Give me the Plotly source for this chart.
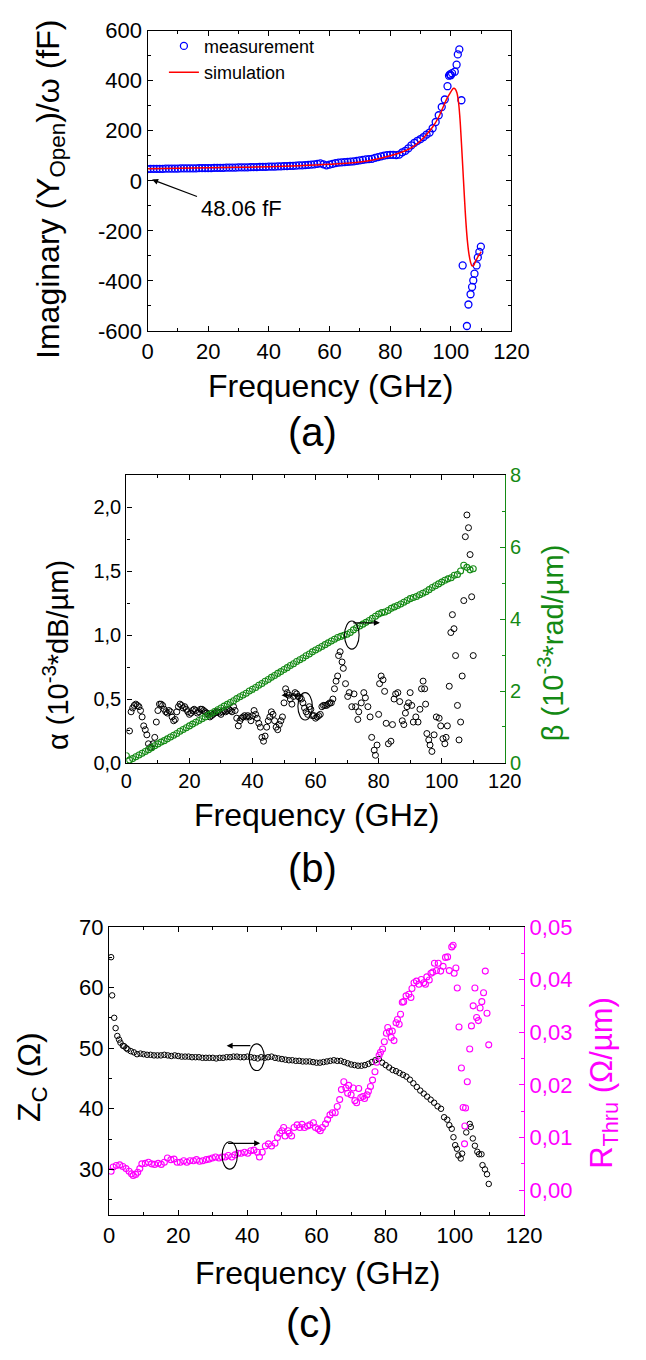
import plotly.graph_objects as go

FONT = "Liberation Sans, Arial, sans-serif"

# ---------------- (a) data ----------------
a_meas_freq = list(range(0, 99)) + [98.9, 99.4, 99.7, 100.0, 100.4, 101.3, 101.9, 102.3, 102.8, 103.5,
                                     103.9, 105.3, 105.8, 106.5, 107.0, 107.4, 107.8, 108.5, 108.9, 109.4, 109.9]
a_meas_val = [47, 48, 48, 48, 48, 48, 49, 49, 49, 49, 49,
              50, 50, 50, 50, 50, 50, 51, 51, 51, 51,
              51, 52, 52, 52, 52, 53, 53, 53, 53, 54,
              54, 54, 54, 55, 55, 55, 56, 56, 56, 57,
              57, 57, 58, 58, 59, 59, 60, 60, 61, 62,
              62, 63, 64, 65, 66, 68, 70, 66, 62, 65,
              68, 71, 73, 74, 75, 76, 77, 78, 80, 82,
              84, 86, 87, 88, 92, 95, 98, 101, 103, 104,
              104, 103, 105, 114, 120, 130, 142, 152, 160, 167,
              175, 185, 193, 210, 235, 262, 295, 325,
              378, 420, 425, 422, 430, 436, 464, 505, 525, 322,
              -338, -580, -494, -453, -424, -398, -371, -338, -306, -284, -263]

a_sim_freq = [0, 10, 20, 30, 40, 50, 60, 70, 75, 80, 85, 88, 90, 92, 94, 96, 98, 99, 100, 100.5,
              101, 101.5, 102, 102.5, 103, 103.5, 104, 104.5, 105, 105.5, 106, 106.5, 107, 107.5,
              108, 108.5, 109, 109.5, 110]
a_sim_val = [48, 50, 52, 54, 56, 60, 66, 75, 85, 100, 120, 140, 160, 185, 215, 255, 310, 335, 355, 365,
             370, 366, 352, 318, 250, 150, 40, -70, -170, -245, -295, -325, -340, -338, -325,
             -313, -302, -293, -283]

# ---------------- (b) data ----------------
b_alpha_freq = [1.0, 1.5, 2.0, 2.5, 3.0, 3.5, 4.0, 4.5, 5.0, 5.5, 6.0, 6.5, 7.0, 7.5, 8.0, 8.5, 9.0, 9.5,
                10.0, 10.5, 11.0, 11.5, 12.0, 12.5, 13.0, 13.5, 14.0, 14.5, 15.0, 15.5, 16.0, 16.5, 17.0,
                17.5, 18.0, 18.5, 19.0, 19.5, 20.0, 20.5, 21.0, 21.5, 22.0, 22.5, 23.0, 23.5, 24.0, 24.5,
                25.0, 25.5, 26.0, 26.5, 27.0, 27.5, 28.0, 28.5, 29.0, 29.5, 30.0, 30.5, 31.0, 31.5, 32.0,
                32.5, 33.0, 33.5, 34.0, 34.5, 35.0, 35.5, 36.0, 36.5, 37.0, 37.5, 38.0, 38.5, 39.0, 39.5,
                40.0, 40.5, 41.0, 41.5, 42.0, 42.5, 43.0, 43.5, 44.0, 44.5, 45.0, 45.5, 46.0, 46.5, 47.0,
                47.5, 48.0, 48.5, 49.0, 49.5, 50.0, 50.5, 51.0, 51.5, 52.0, 52.5, 53.0, 53.5, 54.0, 54.5,
                55.0, 55.5, 56.0, 56.5, 57.0, 57.5, 58.0, 58.5, 59.0, 59.5, 60.0, 60.5, 61.0, 61.5, 62.0,
                62.5, 63.0, 63.5, 64.0, 64.5, 65.0, 65.5, 66.0, 66.5, 67.0, 67.3, 67.8, 68.4, 68.8, 69.5,
                70.2, 70.7, 71.5, 72.2, 72.7, 73.4, 73.7, 74.5, 75.3, 75.8, 76.6, 77.3, 77.8, 78.6, 79.0,
                79.5, 80.0, 80.3, 80.8, 81.4, 81.9, 82.4, 83.1, 83.9, 84.4, 84.9, 85.4, 86.1, 86.7, 87.5,
                88.0, 88.5, 89.0, 89.5, 90.0, 90.5, 91.0, 91.8, 92.5, 93.1, 93.6, 94.1, 94.6, 94.9, 95.3,
                95.9, 96.3, 96.9, 97.6, 98.3, 99.2, 99.7, 100.4, 101.0, 101.4, 101.8, 102.4, 102.9, 103.4,
                103.9, 104.4, 105.0, 105.5, 106.0, 106.5, 107.0, 107.5, 108.0, 108.5, 109.0, 109.5, 110.0]
b_alpha_val = [0.25, 0.40, 0.43, 0.45, 0.46, 0.45, 0.44, 0.41, 0.36, 0.29, 0.26, 0.22, 0.15, 0.12, 0.12,
               0.15, 0.20, 0.32, 0.41, 0.46, 0.46, 0.45, 0.42, 0.40, 0.39, 0.41, 0.40, 0.36, 0.33, 0.34,
               0.40, 0.44, 0.46, 0.45, 0.43, 0.44, 0.42, 0.40, 0.38, 0.39, 0.41, 0.42, 0.41, 0.39, 0.40,
               0.42, 0.42, 0.41, 0.40, 0.39, 0.38, 0.36, 0.37, 0.38, 0.39, 0.40, 0.40, 0.39, 0.38, 0.40,
               0.41, 0.40, 0.41, 0.42, 0.41, 0.40, 0.44, 0.41, 0.35, 0.29, 0.33, 0.35, 0.36, 0.37, 0.36,
               0.37, 0.36, 0.33, 0.37, 0.41, 0.38, 0.35, 0.31, 0.28, 0.20, 0.17, 0.21, 0.28, 0.33, 0.36,
               0.40, 0.38, 0.33, 0.28, 0.26, 0.30, 0.33, 0.36, 0.47, 0.58, 0.55, 0.53, 0.50, 0.46, 0.52,
               0.55, 0.54, 0.52, 0.51, 0.50, 0.47, 0.43, 0.40, 0.38, 0.44, 0.42, 0.37, 0.37, 0.35, 0.36,
               0.37, 0.38, 0.44, 0.45, 0.45, 0.45, 0.46, 0.47, 0.47, 0.50, 0.58, 0.64, 0.68, 0.84, 0.87,
               0.79, 0.74, 0.62, 0.52, 0.55, 0.44, 0.54, 0.44, 0.34, 0.40, 0.47, 0.55, 0.51, 0.44, 0.36,
               0.20, 0.10, 0.06, 0.14, 0.38, 0.62, 0.68, 0.65, 0.56, 0.31, 0.15, 0.17, 0.30, 0.50, 0.54,
               0.55, 0.48, 0.33, 0.30, 0.39, 0.44, 0.47, 0.55, 0.45, 0.32, 0.36, 0.32, 0.42, 0.58, 0.64,
               0.58, 0.46, 0.23, 0.18, 0.14, 0.09, 0.22, 0.36, 0.35, 0.29, 0.19, 0.15, 0.20, 0.29, 0.60,
               1.02, 1.16, 1.05, 0.84, 0.45, 0.18, 0.32, 0.68, 1.27, 1.77, 1.94, 1.84, 1.63, 1.30, 0.84]

b_beta_freq = list(range(0, 111))
b_beta_val = [0.20, 0.08, 0.12, 0.17, 0.22, 0.27, 0.32, 0.37, 0.42, 0.48, 0.53,
              0.58, 0.62, 0.67, 0.72, 0.77, 0.82, 0.88, 0.93, 0.98, 1.03,
              1.08, 1.13, 1.18, 1.23, 1.28, 1.33, 1.38, 1.43, 1.48, 1.53,
              1.58, 1.63, 1.68, 1.73, 1.79, 1.84, 1.89, 1.94, 2.00, 2.05,
              2.10, 2.16, 2.21, 2.27, 2.32, 2.38, 2.43, 2.49, 2.54, 2.60,
              2.65, 2.71, 2.76, 2.82, 2.87, 2.92, 2.98, 3.03, 3.09, 3.14,
              3.19, 3.24, 3.29, 3.34, 3.39, 3.44, 3.49, 3.52, 3.55, 3.58,
              3.63, 3.70, 3.76, 3.81, 3.86, 3.91, 3.96, 4.02, 4.08, 4.14,
              4.18, 4.20, 4.24, 4.30, 4.34, 4.38, 4.42, 4.47, 4.52, 4.57,
              4.60, 4.63, 4.68, 4.72, 4.76, 4.82, 4.88, 4.93, 4.98, 5.03,
              5.08, 5.12, 5.15, 5.22, 5.24, 5.34, 5.50, 5.44, 5.37, 5.40]

# ---------------- (c) data ----------------
c_zc_freq = [0.6, 0.9, 1.5, 1.9, 2.4, 2.9, 3.3, 4.0, 4.4, 5.0, 5.4, 6.3, 7.2, 8.1, 9.1] + list(range(10, 97)) + \
            [96.9, 97.8, 98.4, 99.1, 99.6, 100.1, 100.6, 101.0, 101.7, 102.1, 103.3, 104.3, 104.6, 105.2,
             105.8, 106.5, 107.0, 107.7, 108.0, 108.7, 109.3, 109.8]
c_zc_val = [65.0, 58.7, 55.0, 53.3, 52.0, 51.4, 50.9, 50.4, 50.3, 50.0, 49.8, 49.5, 49.3, 49.0, 49.1,
            49.0, 48.9, 48.9, 48.8, 48.8, 48.8, 48.9, 48.8, 48.7, 48.8,
            48.7, 48.6, 48.6, 48.6, 48.5, 48.5, 48.5, 48.4, 48.4, 48.4,
            48.4, 48.3, 48.4, 48.4, 48.5, 48.5, 48.6, 48.6, 48.5, 48.5,
            48.6, 48.5, 48.4, 48.3, 48.5, 48.4, 48.5, 48.6, 48.4, 48.3,
            48.2, 48.1, 48.0, 48.0, 47.9, 47.9, 47.8, 47.8, 47.8, 47.7,
            47.6, 47.6, 47.7, 47.8, 47.9, 48.0, 47.9, 47.9, 47.7, 47.5,
            47.3, 47.2, 47.1, 47.1, 47.2, 47.4, 47.7, 48.0, 48.2, 47.6,
            47.2, 46.8, 46.4, 46.2, 45.9, 45.6, 45.3, 44.8, 44.2, 43.6,
            43.0, 42.5, 42.0, 41.5, 41.0, 40.4, 40.0,
            38.6, 38.2, 37.3, 36.7, 35.3, 34.0, 33.4, 32.3, 31.8, 32.6, 36.1, 37.5, 37.0, 35.1,
            33.9, 32.9, 32.5, 32.5, 30.7, 30.0, 29.2, 27.6]

c_r_freq = [0.6, 1.2, 2.1, 3.1, 4.0, 4.9, 5.8, 6.5, 7.0, 7.7, 8.3, 8.9, 9.5, 10.5, 11.4, 12.3, 13.2, 14.2,
            15.1, 16.0, 16.9, 17.9, 18.8, 19.7, 20.6, 21.6, 22.5, 23.4, 24.4, 25.3, 26.2, 27.1, 28.1, 29.0,
            29.9, 30.8, 31.8, 32.7, 33.6, 34.5, 35.5, 36.4, 37.3, 38.2, 39.2, 40.1, 41.0, 41.9, 42.9, 43.5,
            44.3, 45.2, 46.1, 47.0, 48.0, 48.7, 49.4, 50.0, 50.5, 50.9, 51.7, 52.1, 52.8, 53.5, 54.4, 55.2,
            55.8, 56.5, 57.4, 58.1, 59.1, 59.7, 60.5, 61.1, 61.7, 62.6, 63.2, 63.9, 64.6, 65.4, 66.0, 66.7,
            67.2, 67.9, 68.5, 69.0, 69.3, 70.0, 70.6, 71.1, 71.6, 72.2, 72.8, 73.4, 73.9, 74.6, 75.0, 75.6,
            76.2, 76.9, 77.4, 78.1, 78.5, 79.1, 79.6, 80.2, 80.6, 81.1, 81.6, 81.9, 82.4, 83.0, 83.4, 83.9,
            84.3, 84.8, 85.2, 85.9, 86.7, 87.3, 87.6, 88.2, 88.9, 89.6, 90.3, 91.0, 91.5, 91.9, 92.6, 93.1,
            93.6, 94.1, 94.7, 95.2, 95.9, 96.6, 97.3, 97.9, 98.4, 99.1, 99.5, 99.8, 100.3, 100.7, 101.2,
            101.9, 102.4, 102.8, 102.9, 103.1, 103.6, 104.3, 104.8, 105.3, 105.8, 106.3, 106.8, 107.3,
            107.8, 108.3, 108.8, 109.3, 109.8]
c_r_val = [0.0036, 0.0044, 0.0047, 0.0048, 0.0045, 0.0041, 0.0036, 0.0031, 0.0028, 0.0030, 0.0034, 0.0041,
           0.0050, 0.0051, 0.0053, 0.0050, 0.0049, 0.0051, 0.0049, 0.0053, 0.0061, 0.0058, 0.0059, 0.0053,
           0.0053, 0.0056, 0.0053, 0.0056, 0.0056, 0.0058, 0.0055, 0.0056, 0.0058, 0.0059, 0.0061, 0.0063,
           0.0061, 0.0063, 0.0063, 0.0066, 0.0063, 0.0067, 0.0070, 0.0070, 0.0072, 0.0070, 0.0075, 0.0076,
           0.0072, 0.0063, 0.0072, 0.0084, 0.0088, 0.0084, 0.0089, 0.0100, 0.0108, 0.0113, 0.0119, 0.0103,
           0.0113, 0.0108, 0.0103, 0.0119, 0.0124, 0.0119, 0.0125, 0.0119, 0.0122, 0.0124, 0.0128, 0.0119,
           0.0116, 0.0113, 0.0119, 0.0126, 0.0134, 0.0143, 0.0147, 0.0147, 0.0159, 0.0172, 0.0191, 0.0206,
           0.0194, 0.0184, 0.0199, 0.0181, 0.0194, 0.0170, 0.0166, 0.0193, 0.0176, 0.0178, 0.0174, 0.0181,
           0.0188, 0.0197, 0.0209, 0.0225, 0.0243, 0.0256, 0.0262, 0.0268, 0.0282, 0.0298, 0.0309, 0.0301,
           0.0290, 0.0302, 0.0284, 0.0318, 0.0324, 0.0315, 0.0334, 0.0357, 0.0358, 0.0369, 0.0372, 0.0366,
           0.0383, 0.0394, 0.0397, 0.0391, 0.0400, 0.0394, 0.0391, 0.0405, 0.0399, 0.0412, 0.0414, 0.0431,
           0.0417, 0.0431, 0.0416, 0.0425, 0.0442, 0.0443, 0.0417, 0.0462, 0.0465, 0.0412, 0.0422, 0.0384,
           0.0310, 0.0232, 0.0157, 0.0088, 0.0122, 0.0156, 0.0206, 0.0268, 0.0312, 0.0350, 0.0384, 0.0328,
           0.0322, 0.0346, 0.0358, 0.0375, 0.0416, 0.0336, 0.0276]

# tick labels
a_y_ticks = [-600, -400, -200, 0, 200, 400, 600]
a_y_text = ["-600", "-400", "-200", "0", "200", "400", "600"]
x_ticks = [0, 20, 40, 60, 80, 100, 120]
b_left_ticks = [0, 0.5, 1.0, 1.5, 2.0]
b_left_text = ["0,0", "0,5", "1,0", "1,5", "2,0"]
b_right_ticks = [0, 2, 4, 6, 8]
c_left_ticks = [30, 40, 50, 60, 70]
c_right_ticks = [0, 0.01, 0.02, 0.03, 0.04, 0.05]
c_right_text = ["0,00", "0,01", "0,02", "0,03", "0,04", "0,05"]

GREEN = "#148a14"
MAGENTA = "#ff00ff"

fig = go.Figure()
fig.add_trace(go.Scatter(x=a_meas_freq, y=a_meas_val, mode="markers", name="measurement",
                         marker=dict(symbol="circle-open", size=7, color="#0000ff", line=dict(width=1.3)),
                         xaxis="x", yaxis="y"))
fig.add_trace(go.Scatter(x=a_sim_freq, y=a_sim_val, mode="lines", name="simulation",
                         line=dict(color="#ff0000", width=1.5, shape="spline"), xaxis="x", yaxis="y"))
fig.add_trace(go.Scatter(x=b_beta_freq, y=b_beta_val, mode="markers", showlegend=False,
                         marker=dict(symbol="circle-open", size=6, color=GREEN, line=dict(width=1.1)),
                         xaxis="x2", yaxis="y3"))
fig.add_trace(go.Scatter(x=b_alpha_freq, y=b_alpha_val, mode="markers", showlegend=False,
                         marker=dict(symbol="circle-open", size=6, color="#000000", line=dict(width=1.0)),
                         xaxis="x2", yaxis="y2"))
fig.add_trace(go.Scatter(x=c_zc_freq, y=c_zc_val, mode="markers", showlegend=False,
                         marker=dict(symbol="circle-open", size=5.5, color="#000000", line=dict(width=1.0)),
                         xaxis="x3", yaxis="y4"))
fig.add_trace(go.Scatter(x=c_r_freq, y=c_r_val, mode="markers", showlegend=False,
                         marker=dict(symbol="circle-open", size=6, color=MAGENTA, line=dict(width=1.1)),
                         xaxis="x3", yaxis="y5"))


def ax(**kw):
    base = dict(showgrid=False, zeroline=False, showline=True, linecolor="#000000", linewidth=1.3,
                ticks="inside", ticklen=5, tickwidth=1.2, tickcolor="#000000",
                tickfont=dict(family=FONT, size=20, color="#000000"))
    base.update(kw)
    return base


W, H = 646, 1360
fig.update_layout(
    width=W, height=H, autosize=False,
    margin=dict(l=0, r=0, t=0, b=0),
    paper_bgcolor="white", plot_bgcolor="white",
    font=dict(family=FONT, color="#000000"),
    xaxis=ax(domain=[147 / W, 525 / W], anchor="y", range=[0, 120], tickvals=x_ticks, mirror="ticks",
             tickfont=dict(family=FONT, size=22, color="#000"),
             minor=dict(ticks="inside", ticklen=3, dtick=10, tick0=0, tickcolor="#000")),
    yaxis=ax(domain=[1 - 325 / H, 1 - 19 / H], anchor="x", range=[-600, 600], tickvals=a_y_ticks,
             ticktext=a_y_text, mirror="ticks", tickfont=dict(family=FONT, size=22, color="#000"),
             minor=dict(ticks="inside", ticklen=3, dtick=100, tick0=0, tickcolor="#000")),
    xaxis2=ax(domain=[125 / W, 518 / W], anchor="y2", range=[0, 120], tickvals=x_ticks, mirror="ticks",
              minor=dict(ticks="inside", ticklen=3, dtick=10, tick0=0, tickcolor="#000")),
    yaxis2=ax(domain=[1 - 765 / H, 1 - 472 / H], anchor="x2", range=[0, 2.25], tickvals=b_left_ticks,
              ticktext=b_left_text, tickfont=dict(family=FONT, size=20, color="#000"),
              minor=dict(ticks="inside", ticklen=3, dtick=0.25, tick0=0, tickcolor="#000")),
    yaxis3=ax(overlaying="y2", side="right", anchor="x2", range=[0, 8], tickvals=b_right_ticks,
              linecolor=GREEN, tickcolor=GREEN, tickfont=dict(family=FONT, size=20, color=GREEN),
              minor=dict(ticks="inside", ticklen=3, dtick=1, tick0=0, tickcolor=GREEN)),
    xaxis3=ax(domain=[107 / W, 538 / W], anchor="y4", range=[0, 120], tickvals=x_ticks, mirror="ticks",
              tickfont=dict(family=FONT, size=22, color="#000"),
              minor=dict(ticks="inside", ticklen=3, dtick=10, tick0=0, tickcolor="#000")),
    yaxis4=ax(domain=[1 - 1226 / H, 1 - 932 / H], anchor="x3", range=[22.4, 70], tickvals=c_left_ticks,
              tickfont=dict(family=FONT, size=22, color="#000"),
              minor=dict(ticks="inside", ticklen=3, dtick=5, tick0=0, tickcolor="#000")),
    yaxis5=ax(overlaying="y4", side="right", anchor="x3", range=[-0.0048, 0.05], tickvals=c_right_ticks,
              ticktext=c_right_text, linecolor=MAGENTA, tickcolor=MAGENTA,
              tickfont=dict(family=FONT, size=22, color=MAGENTA),
              minor=dict(ticks="inside", ticklen=3, dtick=0.005, tick0=0, tickcolor=MAGENTA)),
    legend=dict(x=164 / W, y=1 - 16 / H, xanchor="left", yanchor="top", bgcolor="rgba(0,0,0,0)",
                font=dict(family=FONT, size=18, color="#000"), tracegroupgap=0),
)

ann = []


def txt(x, y, text, size, color="#000", angle=0):
    ann.append(dict(xref="paper", yref="paper", x=x / W, y=1 - y / H, text=text, showarrow=False,
                    textangle=angle, xanchor="center", yanchor="middle",
                    font=dict(family=FONT, size=size, color=color)))


# titles
txt(46, 181, "Imaginary (Y<sub>Open</sub>)/ω (fF)", 32, angle=-90)
txt(337, 381, "Frequency (GHz)", 32)
txt(318, 428, "(a)", 40)
txt(52, 655, "α (10<sup>-3</sup>*dB/µm)", 29, angle=-90)
txt(566, 643, "β (10<sup>-3</sup>*rad/µm)", 29, color=GREEN, angle=-90)
txt(322, 818, "Frequency (GHz)", 32)
txt(318, 872, "(b)", 40)
txt(26, 1085, "Z<sub>C</sub> (Ω)", 32, angle=-90)
txt(621, 1091, "R<sub>Thru</sub> (Ω/µm)", 31, color=MAGENTA, angle=-90)
txt(323, 1285, "Frequency (GHz)", 32)
txt(315, 1336, "(c)", 40)

# (a) annotation
ann.append(dict(xref="x", yref="y", x=31.1, y=-110, text="48.06 fF", showarrow=False,
                font=dict(family=FONT, size=22, color="#000")))
ann.append(dict(xref="x", yref="y", x=1.5, y=5, axref="x", ayref="y", ax=16.8, ay=-65, text="",
                showarrow=True, arrowhead=2, arrowsize=1, arrowwidth=1.2, arrowcolor="#000", standoff=0))


# arrows (b), (c)
def arrow(xr, yr, x_head, x_tail, yv):
    ann.append(dict(xref=xr, yref=yr, x=x_head, y=yv, axref=xr, ayref=yr, ax=x_tail, ay=yv, text="",
                    showarrow=True, arrowhead=2, arrowsize=1, arrowwidth=1.2, arrowcolor="#000",
                    standoff=0))


arrow("x2", "y2", 49.2, 56.6, 0.53)
arrow("x2", "y2", 80.4, 71.5, 1.096)
arrow("x3", "y4", 34.0, 41.3, 50.4)
arrow("x3", "y5", 43.7, 34.0, 0.0089)

fig.update_layout(annotations=ann)

shapes = [
    dict(type="circle", xref="x2", yref="y2", x0=54.4, x1=59.0, y0=0.336, y1=0.55,
         line=dict(color="#000", width=1.1)),
    dict(type="circle", xref="x2", yref="y2", x0=69.2, x1=73.8, y0=0.89, y1=1.11,
         line=dict(color="#000", width=1.1)),
    dict(type="circle", xref="x3", yref="y4", x0=40.5, x1=44.9, y0=46.3, y1=50.7,
         line=dict(color="#000", width=1.1)),
    dict(type="circle", xref="x3", yref="y5", x0=32.7, x1=37.1, y0=0.0040, y1=0.0092,
         line=dict(color="#000", width=1.1)),
]
fig.update_layout(shapes=shapes)

fig.write_html("out.html", config={"displayModeBar": False},
               post_script="document.body.style.margin='0';document.body.style.padding='0';"
                           "document.documentElement.style.overflow='hidden';")
